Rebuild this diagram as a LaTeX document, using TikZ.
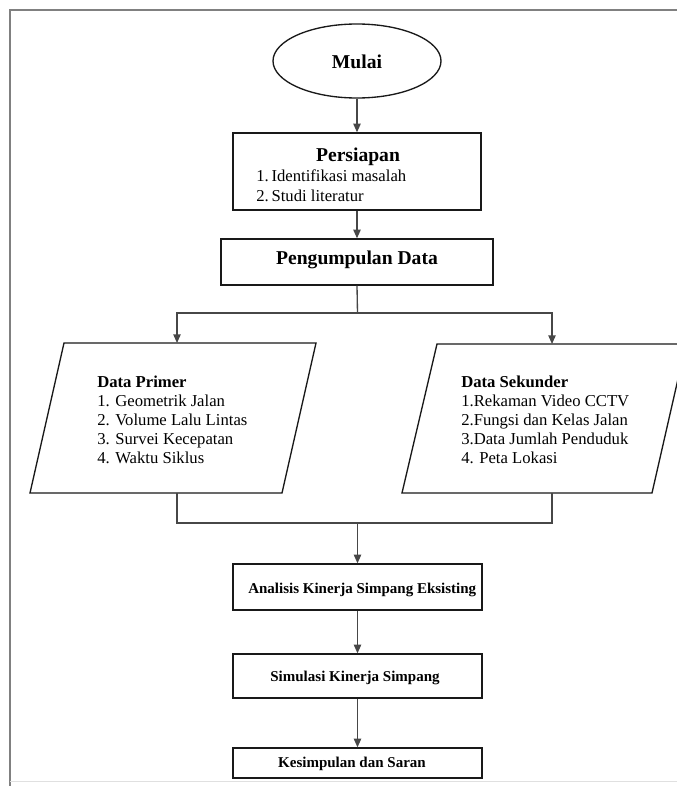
\documentclass[tikz,border=0pt]{standalone}
\usepackage{fontspec}
\setmainfont{Liberation Serif}
\usetikzlibrary{arrows.meta,shapes.geometric}
\begin{document}
\begin{tikzpicture}[x=0.75pt,y=-0.75pt,
  box/.style={draw=black!90,line width=1pt,rectangle,inner sep=0pt},
  shp/.style={draw=black!90,line width=1pt},
  conn/.style={draw=black!72,line width=1pt},
  arr/.style={conn,-{Triangle[length=6.5pt,width=5.5pt]}},
  ttl/.style={font=\fontsize{14.7}{16}\selectfont\bfseries,inner sep=0pt},
  itm/.style={font=\fontsize{12.5}{14}\selectfont,inner sep=0pt,anchor=base west},
  itb/.style={font=\fontsize{12.5}{14}\selectfont\bfseries,inner sep=0pt,anchor=base west},
  sml/.style={font=\fontsize{11.25}{13}\selectfont\bfseries,inner sep=0pt}]
\useasboundingbox (0,0) rectangle (677,786);
\fill[white] (0,0) rectangle (677,786);
% page frame
\draw[gray,line width=1.5pt] (10,786) -- (10,10) -- (677,10);
\draw[black!12,line width=0.75pt] (10,781) -- (677,781);

% start
\node[ellipse,draw=black!90,line width=1pt,minimum width=126pt,minimum height=55.5pt,inner sep=0pt] (mulai) at (357,61) {};
\node[ttl,anchor=base] (mulaiT) at (357,68) {Mulai};

% Persiapan
\node[box,minimum width=186pt,minimum height=57.75pt] (persiapan) at (357,171.5) {};
\node[ttl,anchor=base] (persiapanT) at (358,161) {Persiapan};
\node[itm] (persiapan1) at (256,181) {1.\,Identifikasi masalah};
\node[itm] (persiapan2) at (256,201) {2.\,Studi literatur};

% Pengumpulan
\node[box,minimum width=204pt,minimum height=34.5pt] (pengumpulan) at (357,262) {};
\node[ttl,anchor=base] (pengumpulanT) at (357,264.5) {Pengumpulan Data};

% Parallelograms
\draw[shp] (64,343) -- (316,343) -- (282,493) -- (30,493) -- cycle;
\draw[shp] (437,344) -- (686,344) -- (652,493) -- (402,493) -- cycle;
\node[itb] (primerT) at (97,387.5) {Data Primer};
\node[itm] (primer1) at (97,406.5) {1. Geometrik Jalan};
\node[itm] (primer2) at (97,425.5) {2. Volume Lalu Lintas};
\node[itm] (primer3) at (97,444.5) {3. Survei Kecepatan};
\node[itm] (primer4) at (97,463.5) {4. Waktu Siklus};
\node[itb] (sekunderT) at (461,387.5) {Data Sekunder};
\node[itm] (sekunder1) at (461,406.5) {1.Rekaman Video CCTV};
\node[itm] (sekunder2) at (461,425.5) {2.Fungsi dan Kelas Jalan};
\node[itm] (sekunder3) at (461,444.5) {3.Data Jumlah Penduduk};
\node[itm] (sekunder4) at (461,463.5) {4. Peta Lokasi};

% lower boxes
\node[box,minimum width=186.75pt,minimum height=34.5pt] (analisis) at (357.5,587) {};
\node[sml,anchor=base west] (analisisT) at (248,593) {Analisis Kinerja Simpang Eksisting};
\node[box,minimum width=186.75pt,minimum height=33pt] (simulasi) at (357.5,676) {};
\node[sml,anchor=base] (simulasiT) at (355,681) {Simulasi Kinerja Simpang};
\node[box,minimum width=186.75pt,minimum height=22.5pt] (kesimpulan) at (357.5,763) {};
\node[sml,anchor=base] (kesimpulanT) at (352,767) {Kesimpulan dan Saran};

% connector points
\coordinate (split) at (357.5,313);
\coordinate (primerTop) at (177,343);
\coordinate (sekunderTop) at (552,344);
\coordinate (primerBot) at (177,493);
\coordinate (sekunderBot) at (552,493);
\coordinate (merge) at (357.5,523);

% connectors
\draw[arr] (mulai.south) -- (persiapan.north);
\draw[arr] (persiapan.south) -- (pengumpulan.north);
\draw[conn] (pengumpulan.south) -- (split);
\draw[arr] (split) -| (primerTop);
\draw[arr] (split) -| (sekunderTop);
\draw[conn] (primerBot) |- (merge) -| (sekunderBot);
\draw[arr] (merge) -- (analisis.north);
\draw[arr] (analisis.south) -- (simulasi.north);
\draw[arr] (simulasi.south) -- (kesimpulan.north);
\end{tikzpicture}
\end{document}
